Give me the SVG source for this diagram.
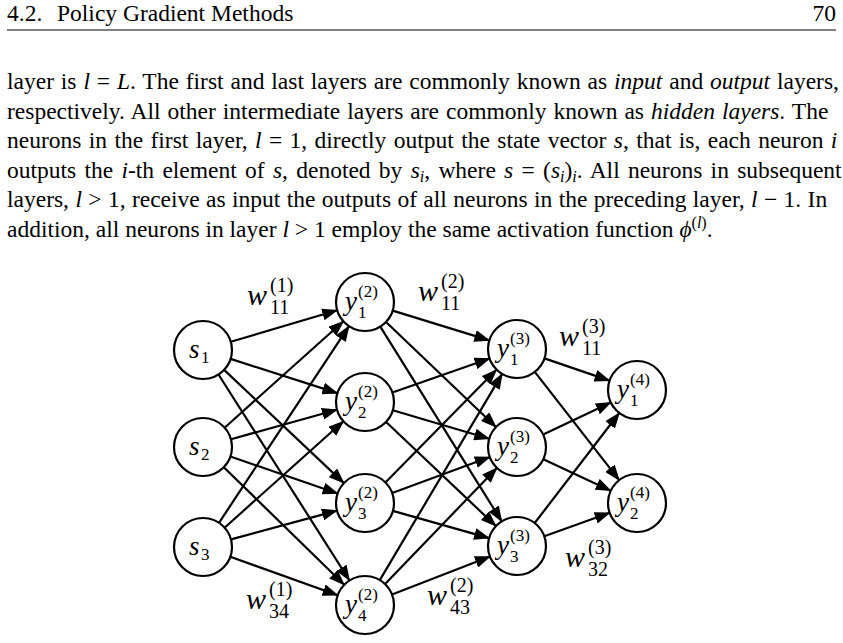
<svg xmlns="http://www.w3.org/2000/svg" width="843" height="643" viewBox="0 0 843 643">
<defs>
<style>
text{font-family:"Liberation Serif","Times New Roman",serif;fill:#000}
.t{font-size:23.5px}
.i{font-style:italic}
.b{font-size:16px;font-style:italic}
.n{fill:#fff;stroke:#000;stroke-width:2.2}
.e line{stroke:#000;stroke-width:2.2;marker-end:url(#a)}
.v{font-size:27px;font-style:italic}
.s{font-size:17px}
.w{font-size:30px;font-style:italic}
.ws{font-size:20px}
</style>
<marker id="a" markerUnits="userSpaceOnUse" markerWidth="16" markerHeight="12" refX="15" refY="6" orient="auto"><path d="M0,0L16,6L0,12Z" fill="#000"/></marker>
</defs>
<rect width="843" height="643" fill="#fff"/>
<text class="t" x="7" y="21">4.2.</text>
<text class="t" x="57" y="21">Policy Gradient Methods</text>
<text class="t" x="836" y="21" text-anchor="end">70</text>
<line x1="7" y1="30" x2="836" y2="30" stroke="#555" stroke-width="1.3"/>
<text class="t" x="7" y="89" word-spacing="1">layer is <tspan class="i">l</tspan> = <tspan class="i">L</tspan>. The first and last layers are commonly known as <tspan class="i">input</tspan> and <tspan class="i">output</tspan> layers,</text>
<text class="t" x="7" y="118.5" word-spacing="1.1">respectively. All other intermediate layers are commonly known as <tspan class="i">hidden layers</tspan>. The</text>
<text class="t" x="7" y="148" word-spacing="1.5">neurons in the first layer, <tspan class="i">l</tspan> = 1, directly output the state vector <tspan class="i">s</tspan>, that is, each neuron <tspan class="i">i</tspan></text>
<text class="t" x="7" y="177.5" word-spacing="2.4">outputs the <tspan class="i">i</tspan>-th element of <tspan class="i">s</tspan>, denoted by <tspan class="i">s</tspan><tspan class="b" dy="4">i</tspan><tspan dy="-4">, where </tspan><tspan class="i">s</tspan> = (<tspan class="i">s</tspan><tspan class="b" dy="4">i</tspan><tspan dy="-4">)</tspan><tspan class="b" dy="4">i</tspan><tspan dy="-4">. All neurons in subsequent</tspan></text>
<text class="t" x="7" y="207" word-spacing="0.5">layers, <tspan class="i">l</tspan> &gt; 1, receive as input the outputs of all neurons in the preceding layer, <tspan class="i">l</tspan> − 1. In</text>
<text class="t" x="7" y="236.5">addition, all neurons in layer <tspan class="i">l</tspan> &gt; 1 employ the same activation function <tspan class="i">ϕ</tspan><tspan font-size="16" dy="-9">(<tspan class="i">l</tspan>)</tspan><tspan dy="9">.</tspan></text>

<g id="edges" class="e">
<line x1="230.8" y1="341.8" x2="337.2" y2="310.2"/>
<line x1="230.6" y1="358.9" x2="337.4" y2="393.1"/>
<line x1="224.1" y1="369.9" x2="343.9" y2="483.1"/>
<line x1="218.5" y1="374.5" x2="349.5" y2="580.5"/>
<line x1="224.6" y1="427.7" x2="343.4" y2="321.3"/>
<line x1="231" y1="439.2" x2="337" y2="409.8"/>
<line x1="230.4" y1="456.5" x2="337.6" y2="493.5"/>
<line x1="223.8" y1="467.2" x2="344.2" y2="584.8"/>
<line x1="219" y1="522.8" x2="349" y2="326.2"/>
<line x1="224.6" y1="527.7" x2="343.4" y2="421.3"/>
<line x1="231" y1="539.4" x2="337" y2="510.6"/>
<line x1="230.3" y1="556.8" x2="337.7" y2="595.2"/>
<line x1="392.7" y1="310.6" x2="489.3" y2="340.4"/>
<line x1="386" y1="322" x2="496" y2="427"/>
<line x1="380.3" y1="326.6" x2="501.7" y2="521.4"/>
<line x1="392.4" y1="392.5" x2="489.6" y2="358.5"/>
<line x1="392.8" y1="410.2" x2="489.2" y2="438.8"/>
<line x1="386.1" y1="422" x2="495.9" y2="526"/>
<line x1="385.4" y1="482.4" x2="496.6" y2="369.6"/>
<line x1="392.2" y1="493" x2="489.8" y2="457"/>
<line x1="392.9" y1="510.9" x2="489.1" y2="538.1"/>
<line x1="379.8" y1="580.1" x2="502.2" y2="373.9"/>
<line x1="385.1" y1="584.1" x2="496.9" y2="467.9"/>
<line x1="392" y1="594.5" x2="490" y2="556.5"/>
<line x1="544.4" y1="358.4" x2="609.6" y2="380.6"/>
<line x1="534.8" y1="371.9" x2="619.2" y2="480.1"/>
<line x1="543.2" y1="434.6" x2="610.8" y2="402.4"/>
<line x1="543.3" y1="459.3" x2="610.7" y2="490.7"/>
<line x1="534.7" y1="523" x2="619.3" y2="413"/>
<line x1="544.3" y1="536.2" x2="609.7" y2="512.8"/>
</g>

<g id="s1"><circle class="n" cx="203" cy="350" r="29"/><text class="v" x="189" y="358">s</text><text class="s" x="201" y="363">1</text></g>
<g id="s2"><circle class="n" cx="203" cy="447" r="29"/><text class="v" x="189" y="455">s</text><text class="s" x="201" y="460">2</text></g>
<g id="s3"><circle class="n" cx="203" cy="547" r="29"/><text class="v" x="189" y="555">s</text><text class="s" x="201" y="560">3</text></g>

<g id="y21"><circle class="n" cx="365" cy="302" r="29"/><text class="v" x="345" y="310">y</text><text class="s" x="358" y="297">(2)</text><text class="s" x="358" y="318">1</text></g>
<g id="y22"><circle class="n" cx="365" cy="402" r="29"/><text class="v" x="345" y="410">y</text><text class="s" x="358" y="397">(2)</text><text class="s" x="358" y="418">2</text></g>
<g id="y23"><circle class="n" cx="365" cy="503" r="29"/><text class="v" x="345" y="511">y</text><text class="s" x="358" y="498">(2)</text><text class="s" x="358" y="519">3</text></g>
<g id="y24"><circle class="n" cx="365" cy="605" r="29"/><text class="v" x="345" y="613">y</text><text class="s" x="358" y="600">(2)</text><text class="s" x="358" y="621">4</text></g>

<g id="y31"><circle class="n" cx="517" cy="349" r="29"/><text class="v" x="497" y="357">y</text><text class="s" x="510" y="344">(3)</text><text class="s" x="510" y="365">1</text></g>
<g id="y32"><circle class="n" cx="517" cy="447" r="29"/><text class="v" x="497" y="455">y</text><text class="s" x="510" y="442">(3)</text><text class="s" x="510" y="463">2</text></g>
<g id="y33"><circle class="n" cx="517" cy="546" r="29"/><text class="v" x="497" y="554">y</text><text class="s" x="510" y="541">(3)</text><text class="s" x="510" y="562">3</text></g>

<g id="y41"><circle class="n" cx="637" cy="390" r="29"/><text class="v" x="617" y="398">y</text><text class="s" x="630" y="385">(4)</text><text class="s" x="630" y="406">1</text></g>
<g id="y42"><circle class="n" cx="637" cy="503" r="29"/><text class="v" x="617" y="511">y</text><text class="s" x="630" y="498">(4)</text><text class="s" x="630" y="519">2</text></g>

<g id="labels">
<text class="w" x="247" y="305">w</text><text class="ws" x="270" y="292">(1)</text><text class="ws" x="270" y="314">11</text>
<text class="w" x="418" y="301">w</text><text class="ws" x="441" y="288">(2)</text><text class="ws" x="441" y="310">11</text>
<text class="w" x="559" y="346">w</text><text class="ws" x="582" y="333">(3)</text><text class="ws" x="582" y="355">11</text>
<text class="w" x="246" y="609">w</text><text class="ws" x="269" y="596">(1)</text><text class="ws" x="269" y="618">34</text>
<text class="w" x="427" y="605">w</text><text class="ws" x="450" y="592">(2)</text><text class="ws" x="450" y="614">43</text>
<text class="w" x="565" y="567">w</text><text class="ws" x="588" y="554">(3)</text><text class="ws" x="588" y="576">32</text>
</g>
</svg>
